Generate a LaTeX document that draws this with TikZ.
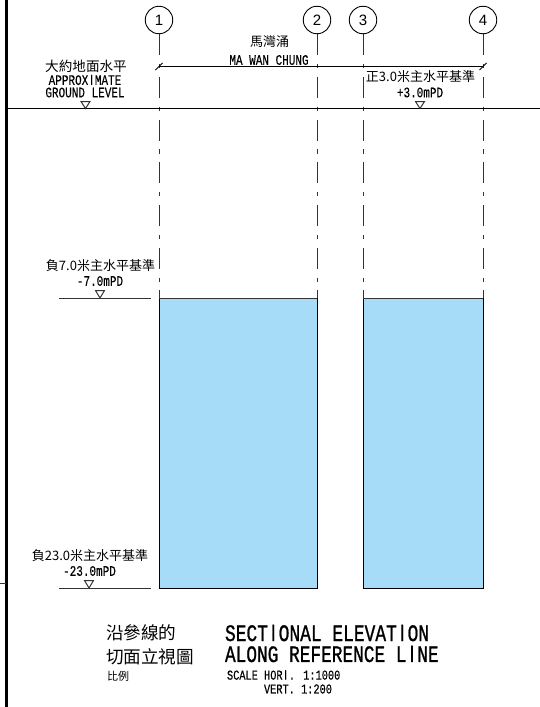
\documentclass[tikz,border=0pt]{standalone}
\usepackage{graphicx}
\usepackage{fontspec}
\setmainfont{Liberation Sans}
\newfontfamily\cadfont[FakeBold=0.3]{Liberation Mono}
\newfontfamily\cadbold[FakeBold=1.1]{Liberation Mono}
\newfontfamily\ifont[FakeBold=0.8]{Liberation Sans}
\newfontfamily\cjkfont{Noto Sans CJK TC}
\newcommand{\cad}[2]{\scalebox{1}[1.32]{\cadfont\fontsize{#1}{#1}\selectfont #2}}
\newcommand{\cadb}[2]{\scalebox{1}[1.32]{\cadbold\fontsize{#1}{#1}\selectfont #2}}
\newcommand{\Ii}{\makebox[0.6em]{\ifont I}}
\newcommand{\cjk}[2]{{\cjkfont\fontsize{#1}{#1}\selectfont #2}}
\definecolor{fillblue}{HTML}{A6DCF8}
\definecolor{linegray}{HTML}{333333}
\tikzset{
  lab/.style={inner sep=0pt, outer sep=0pt, text=black},
  grid circle/.style={draw=black, line width=0.9pt, circle, minimum size=27.5pt, inner sep=0pt, font=\fontsize{15}{15}\selectfont},
  axisline/.style={draw=linegray, line width=0.9pt, dash pattern=on 21pt off 8.8pt on 4.1pt off 8.8pt},
  solidline/.style={draw=black, line width=0.9pt},
  levelmark/.style={draw=linegray, line width=1pt, fill=white},
  blockfill/.style={fill=fillblue, draw=none},
}
\begin{document}
\begin{tikzpicture}[x=1pt,y=-1pt]
\useasboundingbox (0,0) rectangle (540,707);
% water blocks
\fill[blockfill] (159,298) rectangle (317,588);
\fill[blockfill] (363,298) rectangle (483,588);
% grid circles
\node[grid circle] (c1) at (159,20) {1};
\node[grid circle] (c2) at (317,20) {2};
\node[grid circle] (c3) at (363,20) {3};
\node[grid circle] (c4) at (483,20) {4};
% block corners
\coordinate (t1) at (159,298); \coordinate (t2) at (317,298);
\coordinate (t3) at (363,298); \coordinate (t4) at (483,298);
\coordinate (b1) at (159,589); \coordinate (b2) at (317,589);
\coordinate (b3) at (363,589); \coordinate (b4) at (483,589);
% axes
\draw[axisline] (c1.south) -- (t1);
\draw[axisline] (c2.south) -- (t2);
\draw[axisline] (c3.south) -- (t3);
\draw[axisline] (c4.south) -- (t4);
% block outlines
\draw[solidline] (t1) -- (b1) (t2) -- (b2) (t3) -- (b3) (t4) -- (b4);
\draw[solidline, draw=linegray] (t1) -- (t2) (t3) -- (t4);
\draw[solidline] (b1) ++(0,-0.5) -- ++(158,0);
\draw[solidline] (b3) ++(0,-0.5) -- ++(120,0);
% frame
\coordinate (ft) at (6.5,0); \coordinate (fb) at (6.5,707);
\draw[black, line width=2.1pt] (ft) -- (fb);
\coordinate (sa) at (0,583); \coordinate (sb) at (6,583);
\draw[linegray, line width=0.7pt] (sa) -- (sb);
% ground line
\coordinate (ga) at (6,108.5); \coordinate (gb) at (540,108.5);
\draw[solidline] (ga) -- (gb);
% dimension line
\coordinate (d1) at (159,66.5); \coordinate (d4) at (483,66.5);
\draw[solidline, line width=0.7pt] (d1) -- (d4);
\draw[solidline] (155.5,70) -- (162.5,63);
\draw[solidline] (479.5,70) -- (486.5,63);
% level lines
\coordinate (l1a) at (59,298); \coordinate (l1b) at (151,298);
\coordinate (l2a) at (59,588); \coordinate (l2b) at (151,588);
\draw[solidline, draw=linegray] (l1a) -- (l1b);
\draw[solidline, draw=linegray] (l2a) -- (l2b);
% level triangles
\draw[levelmark] (81,101.5) -- (90,101.5) -- (85.5,108.5) -- cycle;
\draw[levelmark] (415.5,101.5) -- (424.5,101.5) -- (420,108.5) -- cycle;
\draw[levelmark] (95.5,290.5) -- (104.5,290.5) -- (100,298) -- cycle;
\draw[levelmark] (84.5,580.5) -- (93.5,580.5) -- (89,588) -- cycle;
% texts
\node[lab] (t01) at (86,66) {\cjk{13.6}{大約地面水平}};
\node[lab] (t02) at (85,80) {\cad{11}{APPROX\Ii MATE}};
\node[lab] (t03) at (85,92.5) {\cad{11}{GROUND LEVEL}};
\node[lab] (t04) at (269.5,42) {\cjk{13}{馬灣涌}};
\node[lab] (t05) at (269,60) {\cad{11}{MA WAN CHUNG}};
\node[lab] (t06) at (420.5,77) {\cjk{13}{正3.0米主水平基準}};
\node[lab] (t07) at (420,92.5) {\cad{11}{+3.0mPD}};
\node[lab] (t08) at (100.5,266) {\cjk{13}{負7.0米主水平基準}};
\node[lab] (t09) at (100,281) {\cad{11}{-7.0mPD}};
\node[lab] (t10) at (90,556) {\cjk{13}{負23.0米主水平基準}};
\node[lab] (t11) at (89.5,571) {\cad{11}{-23.0mPD}};
\node[lab, anchor=west] (t12) at (106,633) {\cjk{17.6}{沿參線的}};
\node[lab, anchor=west] (t13) at (106,657) {\cjk{17.6}{切面立視圖}};
\node[lab, anchor=west] (t14) at (107,676) {\cjk{11}{比例}};
\node[lab, anchor=west] (t15) at (225,633) {\cadb{17.9}{SECT\Ii ONAL ELEVAT\Ii ON}};
\node[lab, anchor=west] (t16) at (225,654) {\cadb{17.8}{ALONG REFERENCE L\Ii NE}};
\node[lab, anchor=west] (t17) at (227,675) {\cad{10.3}{SCALE HOR\Ii . 1:1000}};
\node[lab, anchor=west] (t18) at (264,689) {\cad{10.3}{VERT. 1:200}};
\end{tikzpicture}
\end{document}
